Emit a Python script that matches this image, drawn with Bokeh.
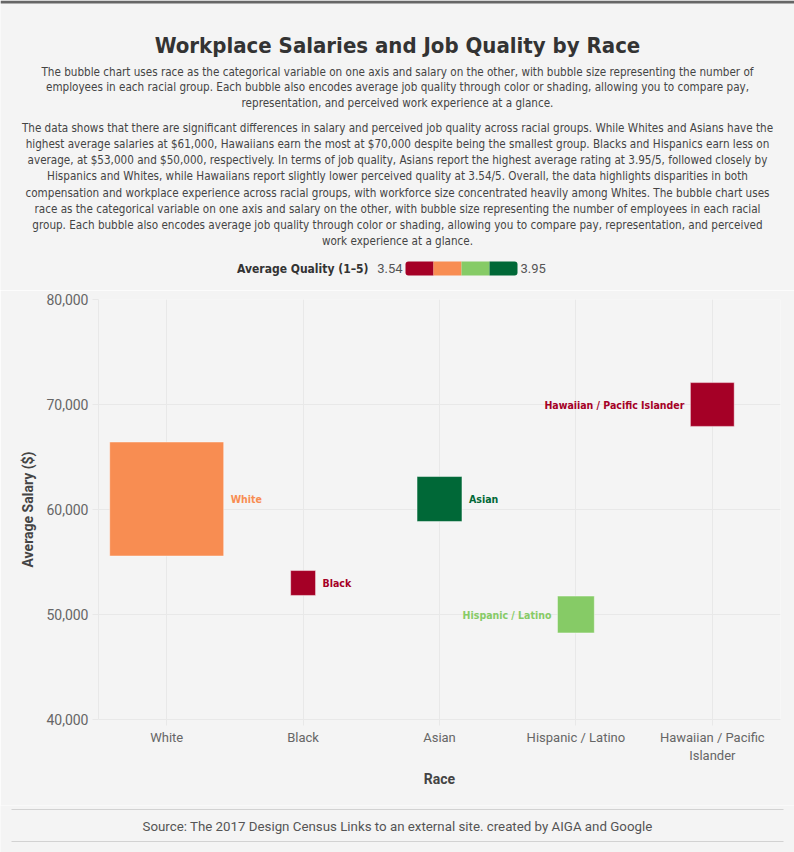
import math

from bokeh.core.properties import value
from bokeh.embed import file_html
from bokeh.layouts import column
from bokeh.models import (BoxAnnotation, ColumnDataSource, CustomJSTickFormatter, FactorRange,
                          FixedTicker, Label, NumeralTickFormatter, Range1d)
from bokeh.plotting import figure
from bokeh.resources import INLINE

# ---- data -------------------------------------------------------------
races = ["White", "Black", "Asian", "Hispanic / Latino", "Hawaiian / Pacific Islander"]
avg_salary = [61000, 53000, 61000, 50000, 70000]
avg_quality = [3.70, 3.60, 3.95, 3.80, 3.54]
employees = [6500, 310, 1010, 680, 960]

salary_ticks = [40000, 50000, 60000, 70000, 80000]
quality_palette = ["#a50026", "#f88d52", "#86cb66", "#006837"]

TITLE = "Workplace Salaries and Job Quality by Race"
INTRO = (
    "The bubble chart uses race as the categorical variable on one axis and salary on the other, with bubble size representing the number of\n"
    "employees in each racial group. Each bubble also encodes average job quality through color or shading, allowing you to compare pay,\n"
    "representation, and perceived work experience at a glance."
)
SUMMARY = (
    "The data shows that there are significant differences in salary and perceived job quality across racial groups. While Whites and Asians have the\n"
    "highest average salaries at $61,000, Hawaiians earn the most at $70,000 despite being the smallest group. Blacks and Hispanics earn less on\n"
    "average, at $53,000 and $50,000, respectively. In terms of job quality, Asians report the highest average rating at 3.95/5, followed closely by\n"
    "Hispanics and Whites, while Hawaiians report slightly lower perceived quality at 3.54/5. Overall, the data highlights disparities in both\n"
    "compensation and workplace experience across racial groups, with workforce size concentrated heavily among Whites. The bubble chart uses\n"
    "race as the categorical variable on one axis and salary on the other, with bubble size representing the number of employees in each racial\n"
    "group. Each bubble also encodes average job quality through color or shading, allowing you to compare pay, representation, and perceived\n"
    "work experience at a glance."
)
SOURCE = "Source: The 2017 Design Census Links to an external site. created by AIGA and Google"

# ---- styling ----------------------------------------------------------
W = 794
BG = "#f4f4f4"
NARROW = "DejaVu Sans Condensed"
SANS = "Roboto"
GRID = "#e8e8e8"

# quantized colour scale for the average quality
q_min, q_max = min(avg_quality), max(avg_quality)
n_bins = len(quality_palette)


def quality_color(q):
    i = int((q - q_min) / (q_max - q_min) * n_bins)
    return quality_palette[max(0, min(n_bins - 1, i))]


colors = [quality_color(q) for q in avg_quality]

# square-root size scale for head count
MAX_SIDE = 114
max_emp = max(employees)
sides = [MAX_SIDE * math.sqrt(n / max_emp) for n in employees]

# labels in the two right-hand columns sit on the left side of their square
LABEL_GAP = 7
left_side = [i >= 3 for i in range(len(races))]
label_dx = [-(s / 2 + LABEL_GAP - 1) if l else (s / 2 + LABEL_GAP) for s, l in zip(sides, left_side)]
label_align = ["right" if l else "left" for l in left_side]


def canvas(h):
    """A plain figure whose data units are pixels, y pointing down."""
    f = figure(width=W, height=h, x_range=Range1d(0, W), y_range=Range1d(h, 0),
               output_backend="svg", toolbar_location=None, min_border=0,
               x_axis_type=None, y_axis_type=None, frame_align=False)
    f.background_fill_color = BG
    f.border_fill_color = BG
    f.outline_line_color = None
    return f


# ---- header: title, text and colour legend -----------------------------
head = canvas(290)
head.quad(left=0, right=W, top=0, bottom=3, fill_color="#666666", line_color=None)
head.add_layout(Label(x=W / 2, y=45, text=TITLE, text_align="center", text_baseline="middle",
                      text_font=NARROW, text_font_style="bold", text_font_size="22px",
                      text_color="#333333"))
head.add_layout(Label(x=W / 2, y=87, text=INTRO, text_align="center", text_baseline="middle",
                      text_font=NARROW, text_font_size="11.6px", text_color="#444444",
                      text_line_height=1.11))
head.add_layout(Label(x=W / 2, y=184, text=SUMMARY, text_align="center", text_baseline="middle",
                      text_font=NARROW, text_font_size="11.6px", text_color="#444444",
                      text_line_height=1.16))

# colour legend: one swatch per quality bin, rounded at the ends
bar_x0, seg_w, bar_y = 405, 28, 268
seg_left = [bar_x0 + i * seg_w for i in range(n_bins)]
seg_right = [x + seg_w for x in seg_left]
for i, c in enumerate(quality_palette):
    radius = (3, 0, 0, 3) if i == 0 else (0, 3, 3, 0) if i == n_bins - 1 else 0
    head.add_layout(BoxAnnotation(left=seg_left[i], right=seg_right[i], top=bar_y - 7,
                                  bottom=bar_y + 7, fill_color=c, fill_alpha=1,
                                  line_color=None, border_radius=radius))
head.add_layout(Label(x=368, y=bar_y, text="Average Quality (1\u20135)", text_align="right",
                      text_baseline="middle", text_font=NARROW, text_font_style="bold",
                      text_font_size="12px", text_color="#333333"))
head.add_layout(Label(x=bar_x0 - 3, y=bar_y, text=f"{q_min:.2f}", text_align="right",
                      text_baseline="middle", text_font=SANS, text_font_size="13px",
                      text_color="#555555"))
head.add_layout(Label(x=seg_right[-1] + 3, y=bar_y, text=f"{q_max:.2f}", text_align="left",
                      text_baseline="middle", text_font=SANS, text_font_size="13px",
                      text_color="#555555"))

# ---- main chart -------------------------------------------------------
src = ColumnDataSource(dict(race=races, salary=avg_salary, side=sides, color=colors,
                            dx=label_dx, align=label_align))

p = figure(width=W, height=515, x_range=FactorRange(*races, range_padding=0),
           y_range=Range1d(40000, 80000), output_backend="svg", toolbar_location=None,
           min_border_left=98, min_border_right=14, min_border_top=9, min_border_bottom=86,
           frame_align=False)
p.background_fill_color = BG
p.border_fill_color = BG
p.outline_line_color = None

p.scatter(x="race", y="salary", size="side", marker="square", source=src,
          fill_color="color", line_color="white", line_alpha=0.45, line_width=1)
p.text(x="race", y="salary", text="race", x_offset="dx", text_align="align",
       text_baseline="middle", text_color="color", text_font=value(NARROW),
       text_font_style="bold", text_font_size="10.5px", source=src)

p.yaxis.ticker = FixedTicker(ticks=salary_ticks)
p.yaxis.formatter = NumeralTickFormatter(format="0,0")
# long category names break onto a second line
p.xaxis.formatter = CustomJSTickFormatter(
    code="return tick.length > 20 ? tick.replace(/ (\\S+)$/, '\\n$1') : tick")

p.grid.grid_line_color = GRID
p.axis.axis_line_color = GRID
p.axis.major_tick_line_color = GRID
p.axis.major_tick_out = 6
p.axis.major_tick_in = 0
p.axis.minor_tick_line_color = None
p.axis.major_label_standoff = 4
p.axis.major_label_text_font = SANS
p.axis.major_label_text_color = "#666666"
p.xaxis.major_label_text_font_size = "13px"
p.yaxis.major_label_text_font_size = "14px"
p.xaxis.major_label_orientation = "horizontal"

p.yaxis.axis_label = "Average Salary ($)"
p.xaxis.axis_label = "Race"
p.axis.axis_label_text_font = SANS
p.axis.axis_label_text_font_style = "bold"
p.axis.axis_label_text_font_size = "14px"
p.axis.axis_label_text_color = "#444444"
p.yaxis.axis_label_standoff = 7
p.xaxis.axis_label_standoff = 5

# ---- footer -----------------------------------------------------------
foot = canvas(47)
foot.segment(x0=[11, 11], y0=[4, 36], x1=[783, 783], y1=[4, 36], line_color="#d2d2d2", line_width=1)
foot.add_layout(Label(x=W / 2, y=21, text=SOURCE, text_align="center", text_baseline="middle",
                      text_font=SANS, text_font_size="13.3px", text_color="#555555"))

layout = column(head, p, foot, spacing=0)
open("out.html", "w").write(file_html(layout, INLINE))
